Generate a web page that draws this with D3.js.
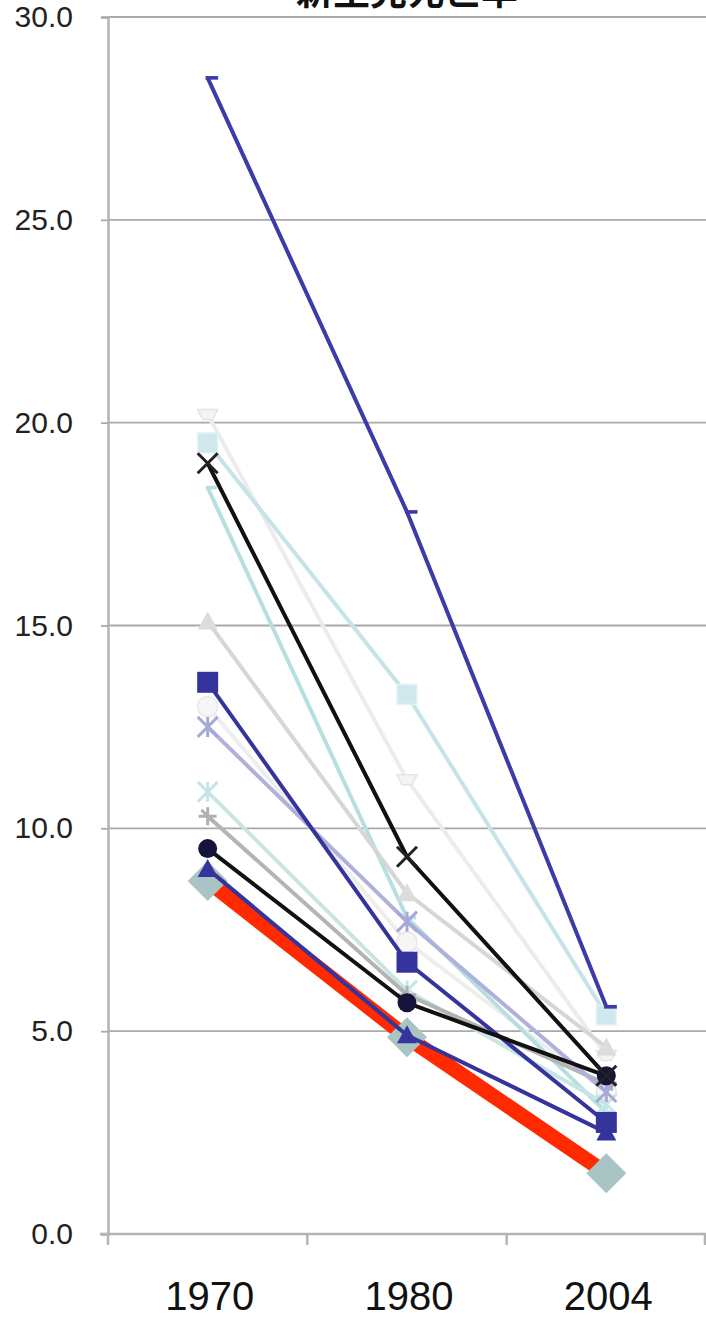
<!DOCTYPE html>
<html><head><meta charset="utf-8">
<script src="https://cdn.jsdelivr.net/npm/d3@7"></script>
<style>html,body{margin:0;padding:0;background:#fff;}svg{display:block;}</style>
</head><body>
<svg id="c" width="706" height="1319"></svg>
<script>
const title = "新生児死亡率";
const years = ["1970", "1980", "2004"];
const yTicks = [0, 5, 10, 15, 20, 25, 30];

// series values (1970, 1980, 2004)
const sRed   = [8.7, 4.85, 1.5];
const sTop   = [28.5, 17.8, 5.6];
const sCyanSq = [19.5, 13.3, 5.4];
const sPale  = [20.2, 11.2, 4.4];
const sBlackX = [19.0, 9.3, 3.9];
const sCyanLn = [18.4, 7.8, 3.0];
const sGrayTri = [15.1, 8.4, 4.6];
const sBlueSq = [13.6, 6.7, 2.75];
const sWhiteCi = [13.0, 7.2, 3.5];
const sLavAst = [12.5, 7.7, 3.5];
const sCyanAst = [10.9, 6.0, 3.2];
const sGrayPlus = [10.3, 5.9, 3.7];
const sBlackCi = [9.5, 5.7, 3.9];
const sBlueTri = [9.0, 4.9, 2.5];

const series = [
  {v: sRed, line: "#ff2a00", w: 15, marker: "diamond", mfill: "#a9c4c4", ms: 40},
  {v: sPale, line: "#ececec", w: 4, marker: "triDown", mfill: "#f4f4f4", ms: 20, mstroke:"#e4e4e4"},
  {v: sWhiteCi, line: "#eeeeee", w: 4, marker: "circle", mfill: "#f6f6f6", ms: 20, mstroke:"#e8e8e8"},
  {v: sCyanSq, line: "#c4e4e8", w: 4, marker: "square", mfill: "#cfe8ee", ms: 20, mstroke:"#e6f2f4"},
  {v: sCyanLn, line: "#b6e0e0", w: 4, marker: "dash", mfill: "#b6e0e0", ms: 12},
  {v: sGrayTri, line: "#d6d6d6", w: 4, marker: "triangle", mfill: "#dcdcdc", ms: 20},
  {v: sCyanAst, line: "#c6e6e6", w: 4, marker: "asterisk", mfill: "#c6e6e6", ms: 20},
  {v: sGrayPlus, line: "#b4b4b4", w: 4, marker: "star", mfill: "#b0b0b0", ms: 18},
  {v: sLavAst, line: "#b0b0dc", w: 4, marker: "asterisk", mfill: "#a8a8d8", ms: 20},
  {v: sBlueSq, line: "#34349c", w: 4, marker: "square", mfill: "#34349c", ms: 21},
  {v: sBlueTri, line: "#34349c", w: 4, marker: "triangle", mfill: "#34349c", ms: 20},
  {v: sBlackCi, line: "#111111", w: 4, marker: "circle", mfill: "#14143c", ms: 19},
  {v: sBlackX, line: "#111111", w: 4, marker: "x", mfill: "#222222", ms: 20},
  {v: sTop, line: "#3c3ca8", w: 4, marker: "dash", mfill: "#3c3ca8", ms: 14}
];

const svg = d3.select("#c");
const pL = 108, pR = 706, pT = 17, pB = 1234;
const x = d3.scaleBand().domain(years).range([pL, pR]).padding(0);
const y = d3.scaleLinear().domain([0, 30]).range([pB, pT]);
const cx = d => x(d) + x.bandwidth() / 2;

// gridlines
svg.append("g").selectAll("line").data(yTicks.filter(t => t > 0)).join("line")
  .attr("x1", pL).attr("x2", pR).attr("y1", d => y(d)).attr("y2", d => y(d))
  .attr("stroke", "#a9a9a9").attr("stroke-width", 1.8);

// y axis
const ya = svg.append("g").attr("transform", `translate(${pL},0)`)
  .call(d3.axisLeft(y).tickValues(yTicks).tickFormat(d3.format(".1f")).tickSize(7).tickPadding(28));
ya.select(".domain").attr("stroke", "#b4b4b4").attr("stroke-width", 2.5);
ya.selectAll(".tick line").attr("stroke", "#a9a9a9").attr("stroke-width", 1.8);
ya.selectAll(".tick text").attr("font-family", "Liberation Sans, Arial, sans-serif")
  .attr("font-size", 30).attr("fill", "#222");

// x axis
const xa = svg.append("g").attr("transform", `translate(0,${pB})`)
  .call(d3.axisBottom(x).tickSize(0).tickPadding(48));
xa.select(".domain").attr("stroke", "#b4b4b4").attr("stroke-width", 2.5)
  .attr("d", `M${pL - 8},0H${pR}`);
xa.selectAll(".tick text").attr("font-family", "Liberation Sans, Arial, sans-serif")
  .attr("font-size", 40).attr("fill", "#111").attr("dx", 2);
// category separator ticks
svg.append("g").selectAll("line").data(years.map(d => x(d)).concat([pR - 1])).join("line")
  .attr("x1", d => d).attr("x2", d => d).attr("y1", pB).attr("y2", pB + 11)
  .attr("stroke", "#b4b4b4").attr("stroke-width", 2.5);

// title (cut off at the top edge, as in the source image)
svg.append("text").attr("x", (pL + pR) / 2).attr("y", 5).attr("text-anchor", "middle")
  .attr("font-family", "Noto Sans CJK JP, sans-serif").attr("font-weight", "bold")
  .attr("font-size", 37).attr("fill", "#111").text(title);

const line = d3.line().x((d, i) => cx(years[i])).y(d => y(d));

function markerPath(type, s) {
  const h = s / 2;
  switch (type) {
    case "diamond": return `M0,${-h}L${h},0L0,${h}L${-h},0Z`;
    case "square": return `M${-h},${-h}H${h}V${h}H${-h}Z`;
    case "circle": return d3.symbol(d3.symbolCircle, Math.PI * h * h)();
    case "triangle": return `M0,${-h}L${h},${h * 0.8}L${-h},${h * 0.8}Z`;
    case "triDown": return `M${-h},${-h * 0.5}H${h}L${h * 0.5},${h * 0.5}H${-h * 0.5}Z`;
    case "dash": return `M${-h * 0.3},-1.8H${h * 1.5}V1.8H${-h * 0.3}Z`;
    case "x": return `M${-h},${-h}L${h},${h}M${h},${-h}L${-h},${h}`;
    case "asterisk": return `M${-h},${-h}L${h},${h}M${h},${-h}L${-h},${h}M0,${-h}V${h}`;
    case "star": return `M${-h},0H${h}M0,${-h}V${h}M${-h*0.7},${-h*0.7}L${h*0.7},${h*0.7}`;
  }
}
const strokeMarkers = new Set(["x", "asterisk", "star"]);

series.forEach(s => {
  const g = svg.append("g");
  g.append("path").datum(s.v).attr("d", line).attr("fill", "none")
    .attr("stroke", s.line).attr("stroke-width", s.w).attr("stroke-linejoin", "round");
  g.selectAll("path.m").data(s.v).join("path").attr("class", "m")
    .attr("transform", (d, i) => `translate(${cx(years[i])},${y(d)})`)
    .attr("d", () => markerPath(s.marker, s.ms))
    .attr("fill", strokeMarkers.has(s.marker) ? "none" : s.mfill)
    .attr("stroke", strokeMarkers.has(s.marker) ? s.mfill : (s.mstroke || "none"))
    .attr("stroke-width", strokeMarkers.has(s.marker) ? 3 : 1.5);
});
</script>
</body></html>
